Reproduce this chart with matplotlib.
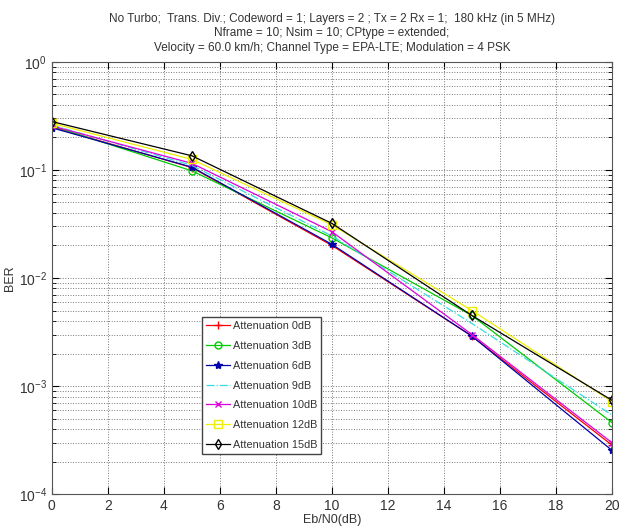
import matplotlib
matplotlib.use('Agg')
import matplotlib.pyplot as plt
from matplotlib.ticker import LogLocator, NullFormatter

plt.rcParams['font.family'] = ['Liberation Sans', 'DejaVu Sans']

# Eb/N0 points
ebn0 = [0, 5, 10, 15, 20]

# BER values, one list per attenuation
ber_0db = [0.250, 0.105, 0.0200, 0.0029, 2.85e-4]
ber_3db = [0.255, 0.098, 0.0235, 0.0045, 4.6e-4]
ber_6db = [0.245, 0.106, 0.0205, 0.0029, 2.55e-4]
ber_9db = [0.260, 0.110, 0.0245, 0.0038, 5.4e-4]
ber_10db = [0.255, 0.115, 0.0268, 0.0030, 3.0e-4]
ber_12db = [0.270, 0.125, 0.0310, 0.0050, 7.2e-4]
ber_15db = [0.280, 0.135, 0.0320, 0.0045, 7.4e-4]

labels = ['Attenuation 0dB', 'Attenuation 3dB', 'Attenuation 6dB', 'Attenuation 9dB',
          'Attenuation 10dB', 'Attenuation 12dB', 'Attenuation 15dB']

fig = plt.figure(figsize=(6.25, 5.28), dpi=100)
ax = fig.add_axes([0.083, 0.064, 0.896, 0.819])

ax.semilogy(ebn0, ber_0db, color='r', marker='+', ms=6, lw=0.9, label=labels[0])
ax.semilogy(ebn0, ber_3db, color='#00cc00', marker='o', ms=5, mfc='none', lw=0.9, label=labels[1])
ax.semilogy(ebn0, ber_6db, color='#0000aa', marker='*', ms=6, lw=0.9, label=labels[2])
ax.semilogy(ebn0, ber_9db, color='#33dddd', linestyle='-.', lw=0.9, label=labels[3])
ax.semilogy(ebn0, ber_10db, color='#dd00dd', marker='x', ms=5, lw=0.9, label=labels[4])
ax.semilogy(ebn0, ber_12db, color='#eeee00', marker='s', ms=6, mfc='none', lw=0.9, label=labels[5])
ax.semilogy(ebn0, ber_15db, color='k', marker='d', ms=5, mfc='none', lw=0.9, label=labels[6])

ax.set_xlim(0, 20)
ax.set_ylim(1e-4, 1)
ax.set_xticks(range(0, 21, 2))
ax.yaxis.set_minor_locator(LogLocator(base=10, subs=range(2, 10), numticks=20))
ax.yaxis.set_minor_formatter(NullFormatter())
ax.tick_params(which='both', direction='in', top=True, right=True, labelsize=10,
               labelcolor='#333333')
ax.tick_params(which='major', length=5)
ax.tick_params(which='minor', length=3)

ax.grid(True, which='major', linestyle=':', color='#777777', lw=0.7)
ax.grid(True, which='minor', axis='y', linestyle=':', color='#777777', lw=0.7)

for s in ax.spines.values():
    s.set_color('#555555')

ax.set_xlabel('Eb/N0(dB)', fontsize=9, labelpad=1, color='#333333')
ax.set_ylabel('BER', fontsize=9, labelpad=2, color='#333333')
ax.set_title('No Turbo;  Trans. Div.; Codeword = 1; Layers = 2 ; Tx = 2 Rx = 1;  180 kHz (in 5 MHz)\n'
             'Nframe = 10; Nsim = 10; CPtype = extended;\n'
             'Velocity = 60.0 km/h; Channel Type = EPA-LTE; Modulation = 4 PSK',
             fontsize=8.5, linespacing=1.25, pad=8, color='#333333')

leg = ax.legend(loc='lower left', bbox_to_anchor=(0.268, 0.094), fontsize=7.8,
                fancybox=False, framealpha=1, edgecolor='#444444',
                handlelength=2.2, handletextpad=0.3, labelspacing=0.9, borderpad=0.35,
                borderaxespad=0.0)
leg.get_frame().set_linewidth(1.0)
for t in leg.get_texts():
    t.set_color('#333333')

fig.savefig('out.png', dpi=100)
